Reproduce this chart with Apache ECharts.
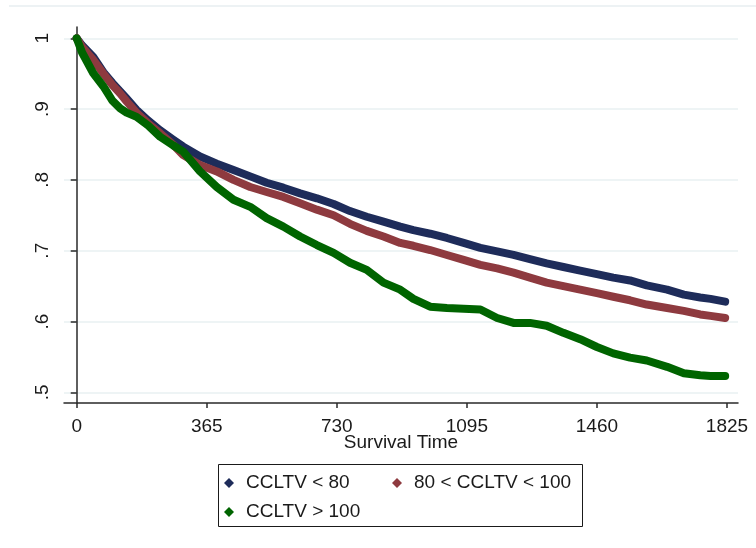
<!DOCTYPE html>
<html>
<head>
<meta charset="utf-8">
<script src="https://cdn.jsdelivr.net/npm/echarts@6/dist/echarts.min.js"></script>
<style>
html,body{margin:0;padding:0;background:#fff;}
#chart{width:756px;height:548px;}
</style>
</head>
<body>
<div id="chart"></div>
<script>
// Survival time (days)
var times = [0, 15, 46, 75, 100, 122, 140, 168, 200, 234, 270, 299, 346, 393, 440, 487, 533, 580, 627, 674, 721, 767, 814, 861, 908, 945, 992, 1039, 1086, 1133, 1180, 1226, 1272, 1319, 1366, 1413, 1460, 1506, 1553, 1600, 1657, 1704, 1750, 1779, 1820];
// Survival probability by group
var survLow = [1.000, 0.990, 0.974, 0.952, 0.937, 0.925, 0.915, 0.899, 0.884, 0.870, 0.857, 0.847, 0.833, 0.823, 0.814, 0.805, 0.796, 0.789, 0.781, 0.774, 0.766, 0.756, 0.748, 0.741, 0.734, 0.729, 0.724, 0.718, 0.711, 0.704, 0.699, 0.694, 0.688, 0.682, 0.677, 0.672, 0.667, 0.662, 0.658, 0.651, 0.645, 0.638, 0.634, 0.632, 0.628];
var survMid = [1.000, 0.988, 0.970, 0.950, 0.934, 0.922, 0.911, 0.895, 0.880, 0.866, 0.850, 0.835, 0.821, 0.812, 0.800, 0.790, 0.783, 0.776, 0.767, 0.758, 0.750, 0.738, 0.728, 0.720, 0.711, 0.707, 0.701, 0.694, 0.687, 0.680, 0.675, 0.669, 0.662, 0.655, 0.650, 0.645, 0.640, 0.635, 0.630, 0.624, 0.619, 0.615, 0.610, 0.608, 0.605];
var survHigh = [1.000, 0.980, 0.951, 0.932, 0.912, 0.901, 0.895, 0.889, 0.877, 0.861, 0.849, 0.840, 0.812, 0.790, 0.772, 0.762, 0.746, 0.734, 0.720, 0.708, 0.697, 0.683, 0.673, 0.655, 0.645, 0.632, 0.621, 0.619, 0.618, 0.617, 0.605, 0.598, 0.598, 0.594, 0.584, 0.575, 0.564, 0.555, 0.549, 0.545, 0.536, 0.527, 0.524, 0.523, 0.523];
var seriesNames = ['CCLTV < 80', '80 < CCLTV < 100', 'CCLTV > 100'];
var xTicks = [0, 365, 730, 1095, 1460, 1825];
var yTicks = [0.5, 0.6, 0.7, 0.8, 0.9, 1.0];

var colors = ['#1e2c5a', '#8e3a3f', '#006400'];
var FONT = 'Liberation Sans, Arial, Helvetica, sans-serif';

function pairs(vals) {
  return times.map(function (t, i) { return [t, vals[i]]; });
}
var allVals = [survLow, survMid, survHigh];

var chart = echarts.init(document.getElementById('chart'), null, {renderer: 'canvas'});

var series = seriesNames.map(function (name, i) {
  return {
    name: name,
    type: 'line',
    data: pairs(allVals[i]),
    showSymbol: false,
    symbol: 'diamond',
    symbolSize: 9,
    itemStyle: {color: colors[i]},
    lineStyle: {color: colors[i], width: 8, cap: 'round', join: 'round'},
    emphasis: {disabled: true},
    animation: false
  };
});

function legendAt(name, left, top) {
  return {
    data: [{name: name, icon: 'diamond'}],
    left: left, top: top,
    orient: 'horizontal',
    itemWidth: 10, itemHeight: 10,
    padding: 0,
    selectedMode: false,
    textStyle: {fontFamily: FONT, fontSize: 19, color: '#1a1a1a', lineHeight: 20, padding: [0, 0, 0, 7]}
  };
}

var option = {
  backgroundColor: '#ffffff',
  animation: false,
  grid: {left: 64, right: 18, top: 27, bottom: 145, containLabel: false},
  xAxis: {
    type: 'value',
    min: -35.7, max: 1856,
    name: 'Survival Time',
    nameLocation: 'middle',
    nameGap: 30,
    nameMoveOverlap: false,
    nameTextStyle: {fontFamily: FONT, fontSize: 19, color: '#1a1a1a'},
    axisLine: {show: true, lineStyle: {color: '#2a2a2a', width: 1.5}},
    axisTick: {show: true, customValues: xTicks, length: 5, lineStyle: {color: '#2a2a2a', width: 1.5}},
    axisLabel: {
      customValues: xTicks, fontFamily: FONT, fontSize: 19, color: '#1a1a1a', margin: 14,
      formatter: function (v) { return String(Math.round(v)); }
    },
    splitLine: {show: false}
  },
  yAxis: {
    type: 'value',
    min: 0.4849, max: 1.016,
    axisLine: {show: true, lineStyle: {color: '#2a2a2a', width: 1.5}},
    axisTick: {show: true, customValues: yTicks, length: 6, lineStyle: {color: '#2a2a2a', width: 1.5}},
    axisLabel: {
      customValues: yTicks, rotate: 90, fontFamily: FONT, fontSize: 19, color: '#1a1a1a', margin: 12,
      formatter: function (v) {
        var r = Math.round(v * 10) / 10;
        if (r === 1) return '1';
        return String(r).replace(/^0\./, '.');
      }
    },
    splitLine: {show: true, lineStyle: {color: '#e9f0f2', width: 1.5}}
  },
  legend: [
    legendAt(seriesNames[0], 224, 473),
    legendAt(seriesNames[1], 392, 473),
    legendAt(seriesNames[2], 224, 502)
  ],
  graphic: [
    {type: 'line', shape: {x1: 9, y1: 6, x2: 756, y2: 6}, style: {stroke: '#edf2f4', lineWidth: 2}, silent: true},
    {type: 'rect', shape: {x: 218.5, y: 464.5, width: 364, height: 62}, style: {fill: 'none', stroke: '#1a1a1a', lineWidth: 1}, silent: true}
  ],
  series: series
};
chart.setOption(option);
</script>
</body>
</html>
